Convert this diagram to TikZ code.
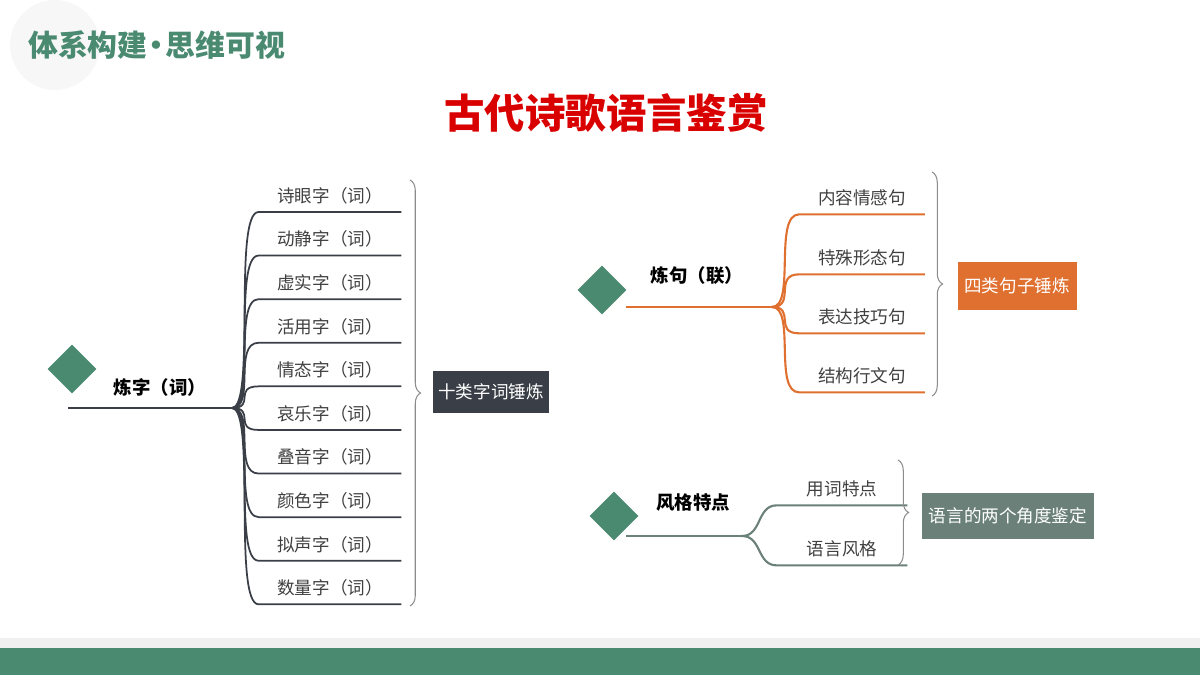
\documentclass[tikz,border=0pt]{standalone}
\usepackage{fontspec}
\setmainfont{Noto Sans CJK SC}
\usetikzlibrary{decorations.pathreplacing,shapes.geometric}
\definecolor{themegreen}{HTML}{4A8A70}
\definecolor{leafdark}{HTML}{3A3F47}
\definecolor{leaforange}{HTML}{E07030}
\definecolor{leafgray}{HTML}{6A8079}
\tikzset{
  gem/.style={diamond,fill=themegreen,minimum width=0.98cm,minimum height=0.98cm,inner sep=0},
  topic/.style={font=\fontsize{10.5}{12}\selectfont\bfseries},
  leaf/.style={font=\fontsize{10}{12}\selectfont,text=black!75,minimum height=0.64cm,inner sep=0},
  tag/.style={text=white,font=\fontsize{10}{12}\selectfont,inner sep=0,minimum height=0.86cm},
  brace/.style={decorate,decoration={brace,amplitude=6pt},draw=black!45,line width=0.6pt}
}
\begin{document}
\begin{tikzpicture}[x=0.02cm,y=-0.02cm]
\useasboundingbox (0,0) rectangle (1200,675);

\fill[black!3] (55,45) circle (45);
\node[font=\fontsize{17}{20}\selectfont\bfseries,text=themegreen,anchor=west] (head) at (22,45) {体系构建\hspace{-0.2em}•\hspace{-0.2em}思维可视};
\node[font=\fontsize{23}{26}\selectfont\bfseries,text=red!85!black] (title) at (606,113) {古代诗歌语言鉴赏};
\fill[black!6] (0,638) rectangle (1200,648);
\fill[themegreen] (0,648) rectangle (1200,675);

% left tree
\node[gem] (gemA) at (72,369) {};
\node[topic] (wordA) at (160,387) {炼字（词）};
\coordinate (startA) at (68,408);
\coordinate (forkA) at (232,408);
\draw[leafdark,line width=1pt] (startA) -- (forkA);
\foreach \t [count=\i] in {诗眼字（词）,动静字（词）,虚实字（词）,活用字（词）,情态字（词）,哀乐字（词）,叠音字（词）,颜色字（词）,拟声字（词）,数量字（词）}{
  \node[leaf,minimum width=2.84cm] (itemA\i) at (330,152+\i*43.6) {\t};
  \draw[leafdark,line width=1pt] (forkA) .. controls +(24,0) and +(-26,0) .. (itemA\i.south west) -- (itemA\i.south east);
}
\draw[brace] (410,180) -- (410,606);
\node[tag,fill=leafdark,minimum width=2.32cm] (tagA) at (491,392) {十类字词锤炼};

% right top tree
\node[gem] (gemB) at (602,290) {};
\node[topic] (wordB) at (697,276) {炼句（联）};
\coordinate (startB) at (626,307);
\coordinate (forkB) at (772,307);
\draw[leaforange,line width=1.2pt] (startB) -- (forkB);
\foreach \t/\y [count=\i] in {内容情感句/193,特殊形态句/253,表达技巧句/312,结构行文句/371}{
  \node[leaf,minimum width=2.5cm] (itemB\i) at (862,\y+5) {\t};
  \draw[leaforange,line width=1.2pt] (forkB) .. controls +(24,0) and +(-26,0) .. (itemB\i.south west) -- (itemB\i.south east);
}
\draw[brace] (932,172) -- (932,396);
\node[tag,fill=leaforange,minimum width=2.38cm,minimum height=0.96cm] (tagB) at (1017,286) {四类句子锤炼};

% right bottom tree
\node[gem] (gemC) at (614,516) {};
\node[topic] (wordC) at (693,503) {风格特点};
\coordinate (startC) at (626,536);
\coordinate (forkC) at (742,536);
\draw[leafgray,line width=1.2pt] (startC) -- (forkC);
\foreach \t/\y [count=\i] in {用词特点/489,语言风格/549}{
  \node[leaf,minimum width=2.6cm] (itemC\i) at (842,\y) {\t};
  \draw[leafgray,line width=1.2pt] (forkC) .. controls +(20,0) and +(-20,0) .. (itemC\i.south west) -- (itemC\i.south east);
}
\draw[brace] (898,460) -- (898,565);
\node[tag,fill=leafgray,minimum width=3.44cm,minimum height=0.94cm] (tagC) at (1008,516) {语言的两个角度鉴定};
\end{tikzpicture}
\end{document}
